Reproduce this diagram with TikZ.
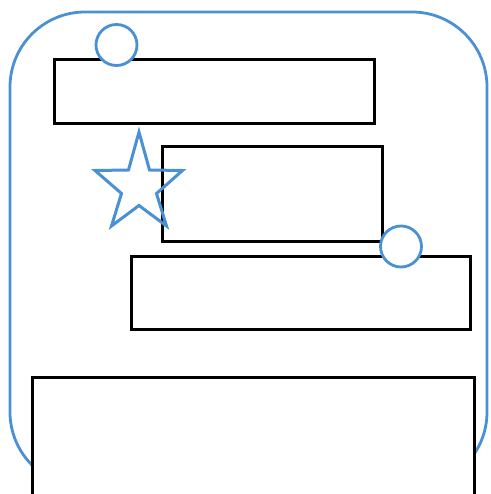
\documentclass[tikz,border=0pt]{standalone}
\usetikzlibrary{shapes.geometric}
\definecolor{frameblue}{RGB}{74,144,212}
\tikzset{
  frame/.style={draw=frameblue,line width=2.8pt,rounded corners=75pt},
  box/.style={draw=black,line width=3pt,fill=white,rectangle,anchor=north west,inner sep=0pt,outer sep=0pt},
  ring/.style={draw=frameblue,line width=2.8pt,fill=white,circle,inner sep=0pt,outer sep=0pt,minimum size=41pt},
  starline/.style={draw=frameblue,line width=3pt,line join=miter}
}
\begin{document}
\begin{tikzpicture}[x=1pt,y=-1pt]
\useasboundingbox (0,0) rectangle (490,494);
\fill[white] (0,0) rectangle (490,494);
\draw[frame] (10,12) rectangle (487,487);
\node[box,minimum width=320pt,minimum height=64pt] (b1) at (54,60) {};
\node[box,minimum width=220pt,minimum height=94pt] (b2) at (162,147) {};
\node[box,minimum width=339pt,minimum height=73pt] (b3) at (131,256) {};
\node[box,minimum width=442pt,minimum height=130pt] (b4) at (32,377) {};
\node[ring] (c1) at (116.5,45) {};
\node[ring] (c2) at (401,246.5) {};
\draw[starline] (139,132) -- (149.5,170) -- (182.5,170.5) -- (156.5,193.5) -- (166.5,226)
  -- (139,205.5) -- (111.5,226) -- (121.5,193.5) -- (95,170.5) -- (128.5,170) -- cycle;
\end{tikzpicture}
\end{document}
